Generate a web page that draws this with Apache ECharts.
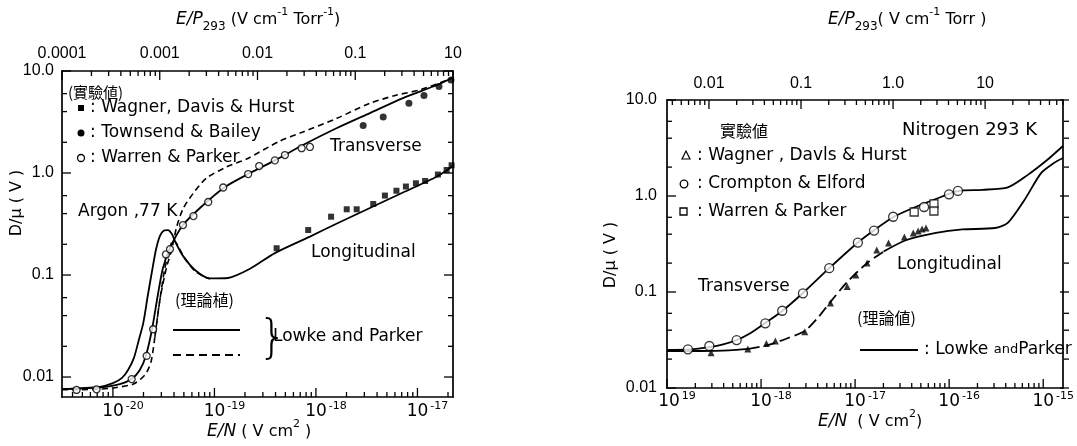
<!DOCTYPE html>
<html>
<head>
<meta charset="utf-8">
<script src="https://cdn.jsdelivr.net/npm/echarts@6/dist/echarts.min.js"></script>
<style>
  html, body { margin: 0; padding: 0; background: #fff; }
  #chart { width: 1077px; height: 446px; }
</style>
</head>
<body>
<div id="chart"></div>
<script>
// ---------- Argon, 77 K : D/mu versus E/N ----------
// Lowke & Parker theory, transverse (solid) [E/N (V cm^2), D/mu (V)]
const arTransverseSolid = [
  [3.15e-21, 0.0076], [7.44e-21, 0.0079], [1.17e-20, 0.0085], [1.54e-20, 0.0096],
  [1.84e-20, 0.0117], [2.11e-20, 0.0161], [2.42e-20, 0.0289], [2.77e-20, 0.0637],
  [3.11e-20, 0.117], [3.65e-20, 0.184], [4.90e-20, 0.309], [7.20e-20, 0.454],
  [1.27e-19, 0.729], [2.24e-19, 1.00], [3.94e-19, 1.33], [7.45e-19, 1.88],
  [1.61e-18, 2.76], [3.40e-18, 3.87], [7.20e-18, 5.43], [1.56e-17, 7.29], [2.19e-17, 8.53]
];
// Lowke & Parker theory, transverse (dashed)
const arTransverseDashed = [
  [3.15e-21, 0.0075], [7.44e-21, 0.0076], [1.57e-20, 0.0085], [2.07e-20, 0.0105],
  [2.37e-20, 0.0140], [2.59e-20, 0.0247], [2.90e-20, 0.0569], [3.38e-20, 0.120],
  [3.79e-20, 0.176], [4.25e-20, 0.298], [4.93e-20, 0.451], [6.18e-20, 0.632],
  [8.37e-20, 0.893], [1.32e-19, 1.15], [2.07e-19, 1.37], [4.42e-19, 2.06],
  [7.45e-19, 2.52], [1.61e-18, 3.44], [3.40e-18, 4.82], [6.28e-18, 5.82],
  [1.06e-17, 6.52], [2.19e-17, 8.53]
];
// Lowke & Parker theory, longitudinal (solid)
const arLongitudinalSolid = [
  [3.15e-21, 0.0076], [7.44e-21, 0.0080], [1.00e-20, 0.0087], [1.23e-20, 0.0098],
  [1.41e-20, 0.0117], [1.61e-20, 0.0154], [1.80e-20, 0.0231], [1.99e-20, 0.0338],
  [2.21e-20, 0.0637], [2.42e-20, 0.107], [2.65e-20, 0.176], [2.90e-20, 0.241],
  [3.18e-20, 0.273], [3.48e-20, 0.276], [3.81e-20, 0.252], [4.17e-20, 0.206],
  [4.90e-20, 0.154], [6.43e-20, 0.112], [9.03e-20, 0.0925], [1.36e-19, 0.0935],
  [2.24e-19, 0.115], [3.94e-19, 0.164], [8.73e-19, 0.238], [1.61e-18, 0.320],
  [3.40e-18, 0.454], [7.20e-18, 0.644], [1.56e-17, 0.925], [2.19e-17, 1.15]
];
// Lowke & Parker theory, longitudinal (dashed)
const arLongitudinalDashed = [
  [2.59e-20, 0.0247], [2.90e-20, 0.0569], [3.25e-20, 0.117], [3.65e-20, 0.184],
  [3.90e-20, 0.220], [4.28e-20, 0.201], [5.01e-20, 0.150], [6.58e-20, 0.107], [9.03e-20, 0.0914]
];
// Measurements
const arWagner = [
  [4.10e-19, 0.183], [8.39e-19, 0.276], [1.41e-18, 0.373], [2.01e-18, 0.441],
  [2.52e-18, 0.441], [3.67e-18, 0.497], [4.78e-18, 0.601], [6.21e-18, 0.670],
  [7.70e-18, 0.737], [9.66e-18, 0.793], [1.19e-17, 0.835], [1.59e-17, 0.966],
  [1.94e-17, 1.07], [2.17e-17, 1.19]
];
const arTownsend = [
  [2.92e-18, 2.92], [4.60e-18, 3.54], [8.24e-18, 4.82], [1.16e-17, 5.75],
  [1.63e-17, 7.05], [2.14e-17, 8.16]
];
const arWarren = [
  [4.38e-21, 0.00747], [6.90e-21, 0.00757], [1.53e-20, 0.00955], [2.15e-20, 0.0161],
  [2.49e-20, 0.0294], [3.33e-20, 0.159], [3.65e-20, 0.179], [4.90e-20, 0.309],
  [6.21e-20, 0.378], [8.69e-20, 0.520], [1.22e-19, 0.721], [2.15e-19, 0.977],
  [2.76e-19, 1.17], [3.94e-19, 1.33], [4.95e-19, 1.50], [7.23e-19, 1.75], [8.73e-19, 1.80]
];

// ---------- Nitrogen, 293 K ----------
const n2TransverseTheory = [
  [1.00e-19, 0.0249], [1.74e-19, 0.0252], [2.82e-19, 0.0267], [4.05e-19, 0.0287],
  [5.53e-19, 0.0316], [7.76e-19, 0.0374], [1.11e-18, 0.0475], [1.68e-18, 0.0634],
  [2.79e-18, 0.0977], [5.34e-18, 0.178], [1.07e-17, 0.328], [1.58e-17, 0.438],
  [2.56e-17, 0.604], [4.25e-17, 0.759], [7.22e-17, 0.931], [1.26e-16, 1.13],
  [2.24e-16, 1.16], [4.20e-16, 1.23], [6.80e-16, 1.65], [1.10e-15, 2.37], [1.62e-15, 3.32]
];
const n2LongitudinalTheory = [
  [1.00e-19, 0.0243], [2.22e-19, 0.0243], [4.57e-19, 0.0246], [7.39e-19, 0.0255],
  [1.20e-18, 0.0281], [1.94e-18, 0.0332], [2.92e-18, 0.0393], [4.00e-18, 0.0536],
  [5.34e-18, 0.0767], [8.24e-18, 0.127], [1.34e-17, 0.200], [2.01e-17, 0.264],
  [3.51e-17, 0.348], [7.22e-17, 0.412], [1.38e-16, 0.448], [3.07e-16, 0.464],
  [4.20e-16, 0.524], [6.32e-16, 0.908], [9.53e-16, 1.74], [1.30e-15, 2.21], [1.62e-15, 2.49]
];
const n2Crompton = [
  [1.67e-19, 0.0253], [2.82e-19, 0.0274], [5.50e-19, 0.0316], [1.11e-18, 0.0472],
  [1.68e-18, 0.0638], [2.79e-18, 0.0969], [5.31e-18, 0.177], [1.07e-17, 0.327],
  [1.59e-17, 0.436], [2.54e-17, 0.608], [5.41e-17, 0.768], [9.96e-17, 1.04], [1.24e-16, 1.13]
];
const n2Warren = [[4.25e-17, 0.681], [6.89e-17, 0.826], [6.89e-17, 0.698]];
const n2Wagner = [
  [2.94e-19, 0.0233], [7.23e-19, 0.0255], [1.14e-18, 0.0291], [1.42e-18, 0.0309],
  [2.92e-18, 0.0385], [5.47e-18, 0.0767], [8.24e-18, 0.114], [1.02e-17, 0.150],
  [1.34e-17, 0.200], [1.70e-17, 0.274], [2.27e-17, 0.324], [3.34e-17, 0.374],
  [4.15e-17, 0.412], [4.68e-17, 0.432], [5.15e-17, 0.453], [5.67e-17, 0.464]
];

// ---------- Tick values and labels ----------
const dTickValues = [0.01, 0.1, 1, 10];
const dTickLabels = ['0.01', '0.1', '1.0', '10.0'];
const arENTickValues = [1e-20, 1e-19, 1e-18, 1e-17];
const arENTickSups = ['-20', '-19', '-18', '-17'];
const arEPTickValues = [1e-4, 1e-3, 1e-2, 1e-1, 1];
const arEPTickLabels = ['0.0001', '0.001', '0.01', '0.1', '10'];
const n2ENTickValues = [1e-19, 1e-18, 1e-17, 1e-16, 1e-15];
const n2ENTickSups = ['19', '-18', '-17', '-16', '-15'];
const n2EPTickValues = [0.01, 0.1, 1, 10];
const n2EPTickLabels = ['0.01', '0.1', '1.0', '10'];
const xMinorSteps = [2, 3, 4, 5, 6, 7, 8, 9];
const yMinorSteps = [2, 4, 6];

// Axis ranges (physical units)
const arENRange = [3.15e-21, 2.24e-17];
const arEPRange = [1e-4, 1];
const arDRange = [0.00637, 10];
const n2ENRange = [1e-19, 1.62e-15];
const n2EPRange = [3.5e-3, 70];
const n2DRange = [0.01, 10];

// ---------- Helpers ----------
// Every axis is linear in log10 space; values pass through log10 first.
const lg = Math.log10;
const INK = '#000';
const FONT = '"DejaVu Sans", sans-serif';
const NUMFONT = '"Liberation Sans", sans-serif';
const CJK = '"Noto Sans CJK JP", sans-serif';
const EPS = 1e-6;
const MAJOR_LEN = 9, MINOR_LEN = 5;
const GRIDS = [
  { left: 62, top: 71, width: 391, height: 326 },
  { left: 667, top: 100, width: 402, height: 288 }
];

function pickLabel(values, labels) {
  return v => {
    let best = 0, bd = Infinity;
    values.forEach((t, i) => {
      const d = Math.abs(lg(t) - v);
      if (d < bd) { bd = d; best = i; }
    });
    return labels[best];
  };
}
function axis(gridIndex, position, range, ticks, label) {
  const tv = ticks.map(lg);
  return {
    type: 'value', gridIndex, position, min: lg(range[0]) - EPS, max: lg(range[1]) + EPS,
    axisLine: { show: true, onZero: false, lineStyle: { color: INK, width: 1.7 } },
    axisTick: { show: false },
    axisLabel: label ? Object.assign({ show: true, customValues: tv, color: INK, hideOverlap: false }, label) : { show: false },
    splitLine: { show: false }, minorTick: { show: false }, minorSplitLine: { show: false }
  };
}
const powRich = {
  sp: { width: 20 },
  b: { fontFamily: FONT, fontSize: 17, lineHeight: 22, color: INK },
  s: { fontFamily: FONT, fontSize: 11, lineHeight: 12, verticalAlign: 'top', padding: [0, 0, 0, 2], color: INK }
};
function powLabel(values, sups, margin) {
  const f = pickLabel(values, sups);
  return { margin, formatter: v => '{sp| }{b|10}{s|' + f(v) + '}', rich: powRich };
}
const numLabel = (values, labels, margin) => ({
  margin, formatter: pickLabel(values, labels), fontFamily: NUMFONT, fontSize: 16
});

// Axes: per grid, x = [E/N bottom, E/P top], y = [D/mu left, D/mu right]
const xAxes = [
  axis(0, 'bottom', arENRange, arENTickValues, powLabel(arENTickValues, arENTickSups, 4)),
  axis(0, 'top', arEPRange, arEPTickValues, numLabel(arEPTickValues, arEPTickLabels, 9)),
  axis(1, 'bottom', n2ENRange, n2ENTickValues, powLabel(n2ENTickValues, n2ENTickSups, 3)),
  axis(1, 'top', n2EPRange, n2EPTickValues, numLabel(n2EPTickValues, n2EPTickLabels, 8))
];
const yAxes = [
  axis(0, 'left', arDRange, dTickValues, numLabel(dTickValues, dTickLabels, 8)),
  axis(0, 'right', arDRange, dTickValues, null),
  axis(1, 'left', n2DRange, dTickValues, numLabel(dTickValues, dTickLabels, 10)),
  axis(1, 'right', n2DRange, dTickValues, null)
];

const toLog = data => data.map(([x, y]) => [lg(x), lg(y)]);
function curve(data, axisIdx, dash, width) {
  return {
    type: 'line', data: toLog(data), xAxisIndex: axisIdx, yAxisIndex: axisIdx,
    showSymbol: false, smooth: 0.25, silent: true, z: 2,
    lineStyle: { color: INK, width: width || 1.8, type: dash || 'solid' }
  };
}
function points(data, axisIdx, symbol, size, filled) {
  return {
    type: 'scatter', data: toLog(data), xAxisIndex: axisIdx, yAxisIndex: axisIdx, symbol, symbolSize: size, z: 3,
    itemStyle: { color: filled ? INK : '#fff', borderColor: INK, borderWidth: filled ? 0 : 1.3 }
  };
}

const series = [
  curve(arTransverseSolid, 0),
  curve(arTransverseDashed, 0, [6, 4], 1.6),
  curve(arLongitudinalSolid, 0),
  curve(arLongitudinalDashed, 0, [6, 4], 1.6),
  points(arWagner, 0, 'rect', 6, true),
  points(arTownsend, 0, 'circle', 7, true),
  points(arWarren, 0, 'circle', 7, false),
  curve(n2TransverseTheory, 2),
  curve(n2LongitudinalTheory.slice(0, 4), 2),
  curve(n2LongitudinalTheory.slice(3, 12), 2, [11, 5]),
  curve(n2LongitudinalTheory.slice(11), 2),
  points(n2Crompton, 2, 'circle', 9, false),
  points(n2Warren, 2, 'rect', 8, false),
  points(n2Wagner, 2, 'triangle', 7, true)
];

// ---------- Titles, annotations and keys ----------
const titleRich = {
  i: { fontFamily: FONT, fontSize: 17, fontStyle: 'italic', lineHeight: 26, fill: INK },
  n: { fontFamily: FONT, fontSize: 16, lineHeight: 26, fill: INK },
  sub: { fontFamily: FONT, fontSize: 12, verticalAlign: 'bottom', lineHeight: 14, fill: INK },
  sup: { fontFamily: FONT, fontSize: 11, verticalAlign: 'top', lineHeight: 14, fill: INK }
};
function txt(x, y, text, opts) {
  return {
    type: 'text', x, y, silent: true,
    style: Object.assign({ text, fill: INK, font: '17px ' + FONT, textAlign: 'left', textVerticalAlign: 'middle' }, opts || {})
  };
}
function richTxt(x, y, text, rotation) {
  return {
    type: 'text', x, y, rotation: rotation || 0, silent: true,
    style: { text, rich: titleRich, fill: INK, textAlign: rotation ? 'center' : 'left', textVerticalAlign: 'middle' }
  };
}
const lineEl = (x1, y1, x2, y2, dash, width) => ({
  type: 'line', silent: true, shape: { x1, y1, x2, y2 },
  style: { stroke: INK, lineWidth: width || 2, lineDash: dash || null }
});

const annotations = [
  // Argon panel
  richTxt(176, 20, '{i|E/P}{sub|293}{n| (V cm}{sup|-1}{n| Torr}{sup|-1}{n|)}'),
  richTxt(207, 432, '{i|E/N}{n| ( V cm}{sup|2}{n| )}'),
  richTxt(17, 203, '{n|D/μ ( V )}', Math.PI / 2),
  txt(68, 92, '(實驗値)', { font: '15px ' + CJK }),
  { type: 'rect', silent: true, shape: { x: 78, y: 105, width: 6, height: 6 }, style: { fill: INK } },
  { type: 'circle', silent: true, shape: { cx: 81, cy: 133, r: 3.5 }, style: { fill: INK } },
  { type: 'circle', silent: true, shape: { cx: 81, cy: 158, r: 3.5 }, style: { fill: '#fff', stroke: INK, lineWidth: 1.3 } },
  txt(90, 108, ': Wagner, Davis & Hurst'),
  txt(90, 133, ': Townsend & Bailey'),
  txt(90, 158, ': Warren & Parker'),
  txt(330, 147, 'Transverse'),
  txt(311, 253, 'Longitudinal'),
  txt(78, 212, 'Argon ,77 K'),
  txt(175, 300, '(理論植)', { font: '16px ' + CJK }),
  lineEl(173, 330, 240, 330),
  lineEl(173, 355, 240, 355, [8, 5]),
  txt(258, 340, '}', { font: '200 46px ' + FONT }),
  txt(273, 337, 'Lowke and Parker'),
  // Nitrogen panel
  richTxt(828, 20, '{i|E/P}{sub|293}{n|( V cm}{sup|-1}{n| Torr )}'),
  richTxt(818, 422, '{i|E/N}{n|  ( V cm}{sup|2}{n|)}'),
  richTxt(611, 255, '{n|D/μ ( V )}', Math.PI / 2),
  txt(720, 131, '實驗値', { font: '16px ' + CJK }),
  txt(902, 130, 'Nitrogen 293 K', { font: '18px ' + FONT }),
  { type: 'polygon', silent: true, shape: { points: [[686, 151], [682, 159], [690, 159]] }, style: { fill: '#fff', stroke: INK, lineWidth: 1.2 } },
  { type: 'circle', silent: true, shape: { cx: 684, cy: 184, r: 3.8 }, style: { fill: '#fff', stroke: INK, lineWidth: 1.3 } },
  { type: 'rect', silent: true, shape: { x: 680, y: 208, width: 7, height: 7 }, style: { fill: '#fff', stroke: INK, lineWidth: 1.3 } },
  txt(697, 156, ': Wagner , Davls & Hurst'),
  txt(697, 184, ': Crompton & Elford'),
  txt(697, 212, ': Warren & Parker'),
  txt(698, 287, 'Transverse'),
  txt(897, 265, 'Longitudinal'),
  txt(857, 318, '(理論値)', { font: '16px ' + CJK }),
  lineEl(860, 350, 918, 350),
  {
    type: 'text', x: 924, y: 350, silent: true,
    style: {
      text: '{n|: Lowke }{a|and}{n|Parker}', fill: INK, textVerticalAlign: 'middle',
      rich: {
        n: { fontFamily: FONT, fontSize: 17, fill: INK },
        a: { fontFamily: FONT, fontSize: 13, fill: INK }
      }
    }
  }
];

const chart = echarts.init(document.getElementById('chart'), null, { renderer: 'canvas' });
chart.setOption({
  backgroundColor: '#fff',
  animation: false,
  grid: GRIDS,
  xAxis: xAxes,
  yAxis: yAxes,
  series,
  graphic: annotations
});

// ---------- Inward tick marks: decades plus log-spaced minors, placed via the axis scales ----------
function tickValues(range, steps) {
  const lo = lg(range[0]) - EPS, hi = lg(range[1]) + EPS;
  const out = [];
  for (let e = Math.floor(lo); e <= Math.ceil(hi); e++) {
    if (e >= lo && e <= hi) out.push([e, MAJOR_LEN]);
    for (const m of steps) {
      const v = e + lg(m);
      if (v >= lo && v <= hi) out.push([v, MINOR_LEN]);
    }
  }
  return out;
}
function gridTickMarks(g, xBottom, xTop, yLeft, enRange, epRange, dRange) {
  const box = GRIDS[g];
  const top = box.top, bottom = box.top + box.height;
  const left = box.left, right = box.left + box.width;
  const els = [];
  tickValues(enRange, xMinorSteps).forEach(([v, len]) => {
    const px = chart.convertToPixel({ xAxisIndex: xBottom }, v);
    els.push(lineEl(px, bottom, px, bottom - len, null, 1.3));
  });
  tickValues(epRange, xMinorSteps).forEach(([v, len]) => {
    const px = chart.convertToPixel({ xAxisIndex: xTop }, v);
    els.push(lineEl(px, top, px, top + len, null, 1.3));
  });
  tickValues(dRange, yMinorSteps).forEach(([v, len]) => {
    const py = chart.convertToPixel({ yAxisIndex: yLeft }, v);
    els.push(lineEl(left, py, left + len, py, null, 1.3));
    els.push(lineEl(right, py, right - len, py, null, 1.3));
  });
  return els;
}
const tickMarks = [
  ...gridTickMarks(0, 0, 1, 0, arENRange, arEPRange, arDRange),
  ...gridTickMarks(1, 2, 3, 2, n2ENRange, n2EPRange, n2DRange)
];
chart.setOption({ graphic: annotations.concat(tickMarks) });
</script>
</body>
</html>
